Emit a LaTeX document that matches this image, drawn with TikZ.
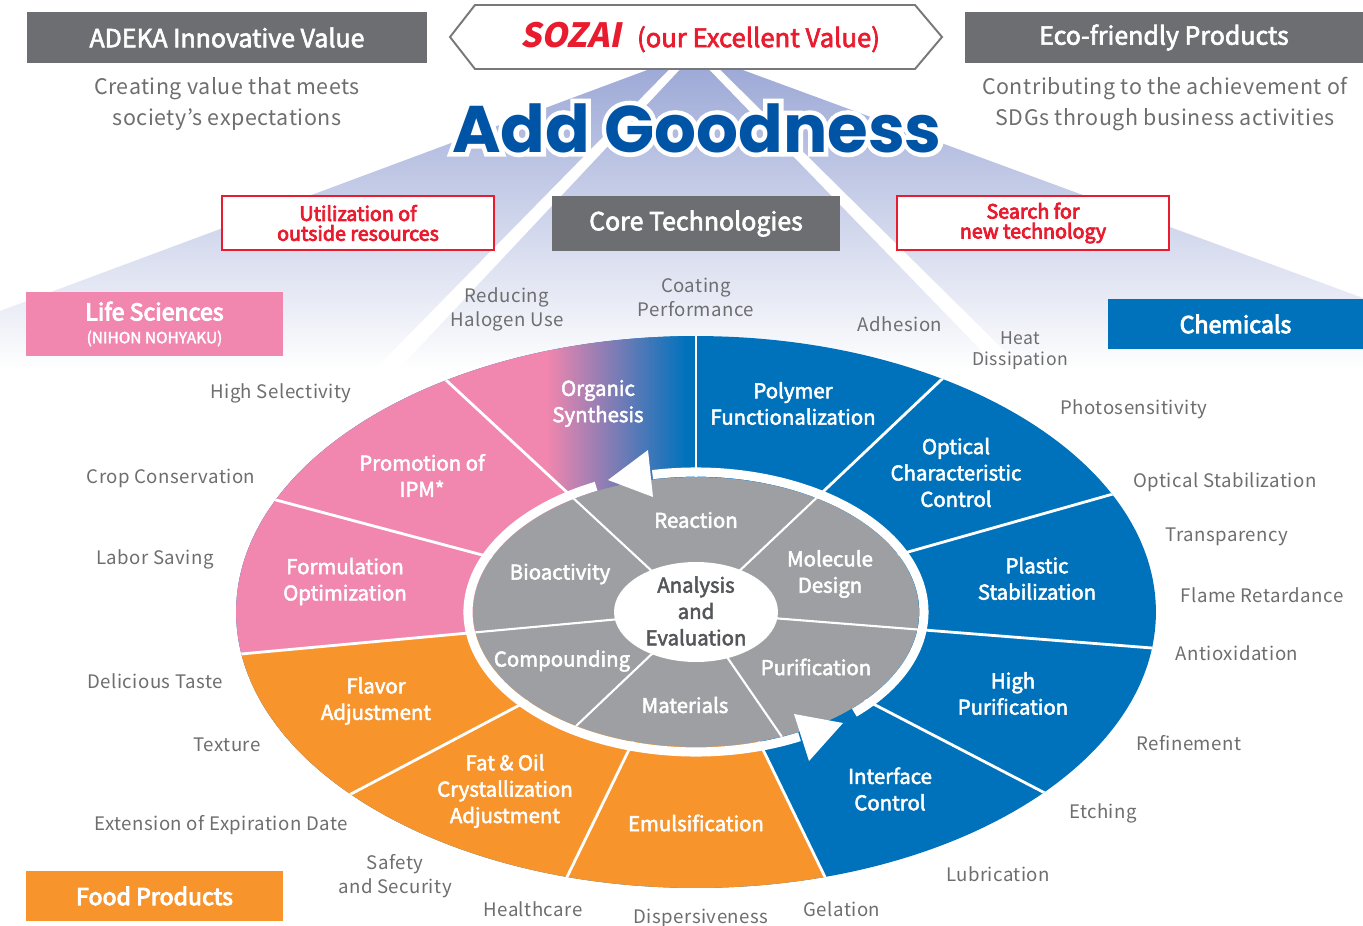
\documentclass[tikz,border=0pt]{standalone}
\usepackage{fontspec}
\setmainfont{Noto Sans CJK JP}
\newfontfamily\spcfam[LetterSpace=2.5]{Noto Sans CJK JP}
\newfontfamily\medfam[FakeBold=2.5]{Noto Sans CJK JP}
\newfontfamily\semfam[FakeBold=4]{Noto Sans CJK JP}
\newfontfamily\sozaifam[FakeSlant=0.2]{Noto Sans CJK JP}
\newfontfamily\popfam{Poppins}
\newfontfamily\pophalo[FakeBold=14]{Poppins}
\usetikzlibrary{calc}
\definecolor{pinkc}{RGB}{241,134,174}
\definecolor{bluec}{RGB}{0,114,188}
\definecolor{orangec}{RGB}{247,148,44}
\definecolor{grayc}{RGB}{157,159,162}
\definecolor{darkbox}{RGB}{109,110,113}
\definecolor{txtgray}{RGB}{110,110,112}
\definecolor{darktxt}{RGB}{85,86,89}
\definecolor{redc}{RGB}{232,28,46}
\definecolor{lav}{RGB}{158,170,215}
\definecolor{goodblue}{RGB}{0,84,166}
\definecolor{hexgray}{RGB}{120,120,122}
\newcommand\myLbl{\spcfam\fontsize{10.6}{13.6}\selectfont}
\newcommand\myLblS{\spcfam\fontsize{10}{12}\selectfont}
\newcommand\myTop{\spcfam\fontsize{12.2}{18}\selectfont}
\newcommand\mySeg{\medfam\fontsize{11.6}{15}\selectfont}
\newcommand\myHdr{\medfam\fontsize{14.2}{16}\selectfont}
\newcommand\myCat{\semfam\fontsize{13.2}{14}\selectfont}
\newcommand\myRed{\semfam\fontsize{11.2}{11.3}\selectfont}
\newcommand\myAdd{\popfam\bfseries\fontsize{37.5}{40}\selectfont}
\newcommand\myAddHalo{\pophalo\bfseries\fontsize{37.5}{40}\selectfont}
\begin{document}
\begin{tikzpicture}[x=0.02cm, y=-0.02cm,
 lbl/.style={font=\myLbl, text=txtgray, align=center, inner sep=0pt},
 toplbl/.style={font=\myTop, text=txtgray, align=center, inner sep=0pt},
 seg/.style={font=\mySeg, text=white, align=center, inner sep=0pt},
 hdrbox/.style={fill=darkbox, text=white, font=\myHdr, inner sep=0pt},
 redbox/.style={draw=redc, fill=white, line width=0.8pt, text=redc, font=\myRed, align=center, inner sep=0pt},
 catbox/.style={text=white, font=\myCat, align=center, inner sep=0pt},
 divider/.style={white, line width=1.6pt},
 gdivider/.style={white, line width=1.2pt},
 ring/.style={white, line width=5.2pt},
 beam/.style={top color=lav, bottom color=white},
 addtext/.style={inner sep=0pt}
]
\useasboundingbox (0,0) rectangle (1363,926);
\fill[white] (0,0) rectangle (1363,926);

% fan background: three beams separated by white gaps
\shade[beam] (650,69) -- (669.5,69) -- (374,370) -- (0,370) -- (0,311) -- cycle;
\shade[beam] (680.5,69) -- (708.5,69) -- (1000,370) -- (398,370) -- cycle;
\shade[beam] (719.5,69) -- (740,69) -- (1363,298) -- (1363,370) -- (1024,370) -- cycle;

% Add Goodness with white halo
\node[addtext, font=\myAddHalo, text=white] (addhalo) at (697,128) {Add Goodness};
\node[addtext, font=\myAdd, text=goodblue] (addgood) at (697,128) {Add Goodness};

% header boxes
\node[hdrbox, minimum width=8cm, minimum height=1.02cm] (adeka) at (227,37.5) {ADEKA Innovative Value};
\node[hdrbox, minimum width=7.96cm, minimum height=1.02cm] (eco) at (1164,37.5) {Eco-friendly Products};
\node[toplbl] (adekatxt) at (227,104) {Creating value that meets\\society’s expectations};
\node[toplbl] (ecotxt) at (1165,104) {Contributing to the achievement of\\SDGs through business activities};

% SOZAI hexagon
\draw[draw=hexgray, fill=white, line width=1.1pt] (450,37) -- (475,5) -- (915,5) -- (942,37) -- (915,69) -- (475,69) -- cycle;
\node[inner sep=0pt, text=redc] (sozai) at (700,37) {{\sozaifam\bfseries\fontsize{19}{19}\selectfont SOZAI}\hspace{9pt}{\medfam\fontsize{14.6}{14}\selectfont (our Excellent Value)}};

% middle boxes
\node[hdrbox, minimum width=5.76cm, minimum height=1.1cm] (core) at (696,223.5) {Core Technologies};
\node[redbox, minimum width=5.44cm, minimum height=1.08cm] (util) at (358,223) {Utilization of\\outside resources};
\node[redbox, minimum width=5.44cm, minimum height=1.08cm] (search) at (1033,223) {Search for\\new technology};

% category boxes
\node[catbox, fill=pinkc, minimum width=5.14cm, minimum height=1.28cm] (life) at (154.5,324) {Life Sciences\\[-1pt]{\medfam\fontsize{8.8}{10}\selectfont (NIHON NOHYAKU)}};
\node[catbox, fill=bluec, minimum width=5.1cm, minimum height=1.0cm] (chem) at (1235.5,324) {Chemicals};
\node[catbox, fill=orangec, minimum width=5.14cm, minimum height=1.0cm] (food) at (154.5,896) {Food Products};

% ===== wheel =====
\coordinate (C) at (696,612);
\coordinate (P0) at (696,336);
\coordinate (P2) at (941,380);
\coordinate (P3) at (1113,494);
\coordinate (P4) at (1152,648);
\coordinate (P5) at (1043,792);
\coordinate (P6) at (825,877);
\coordinate (P7) at (567,877);
\coordinate (P8) at (351,794);
\coordinate (P9) at (241,654);
\coordinate (P10) at (276,500);
\coordinate (P11) at (447,381);
\coordinate (Q1) at (782,737);
\coordinate (Q2) at (575,727);

\begin{scope}
  \clip (C) ellipse [x radius=9.2cm, y radius=5.52cm];
  \fill[bluec] (C) ellipse [x radius=9.3cm, y radius=5.6cm];
  \fill[orangec] (C) -- ($(C)!3!(P6)$) -- ($(C)!3!(P7)$) -- ($(C)!3!(P8)$) -- ($(C)!3!(P9)$) -- cycle;
  \fill[pinkc] (C) -- ($(C)!3!(P9)$) -- ($(C)!3!(P10)$) -- ($(C)!3!(P11)$) -- cycle;
  \begin{scope}
    \clip (C) -- ($(C)!3!(P11)$) -- ($(C)!3!(P0)$) -- cycle;
    \fill[pinkc] (0,0) rectangle (548,700);
    \shade[left color=pinkc, right color=bluec] (547,0) rectangle (686,700);
    \fill[bluec] (685,0) rectangle (760,700);
  \end{scope}
  \foreach \p in {P0,P2,P3,P4,P5,P6,P7,P8,P9,P10,P11} {
    \draw[divider] (C) -- ($(C)!1.1!(\p)$);
  }
\end{scope}

% gray core
\fill[grayc] (C) ellipse [x radius=4.46cm, y radius=2.7cm];
\begin{scope}
  \clip (C) ellipse [x radius=4.46cm, y radius=2.7cm];
  \foreach \p in {P11,P2,P4,Q1,Q2,P9} {
    \draw[gdivider] (C) -- ($(C)!2!(\p)$);
  }
\end{scope}

% circulating white arrows
\draw[ring] (C) ++(-46:4.56cm and 2.8cm) arc[start angle=-46, end angle=101, x radius=4.56cm, y radius=2.8cm];
\draw[ring] (C) ++(116:4.56cm and 2.8cm) arc[start angle=116, end angle=297, x radius=4.56cm, y radius=2.8cm];
\fill[white] (608,480) -- (648,450) -- (653,497) -- cycle;
\fill[white] (843,723) -- (794,714) -- (809,761) -- cycle;

% center
\fill[white] (C) ellipse [x radius=1.64cm, y radius=1.0cm];
\node[font=\mySeg, text=darktxt, align=center, inner sep=0pt] (analysis) at (696,611) {Analysis\\and\\Evaluation};

% segment labels
\node[seg] (s1) at (598,403.5) {Organic\\Synthesis};
\node[seg] (s2) at (793,403.5) {Polymer\\Functionalization};
\node[seg] (s3) at (956,472.5) {Optical\\Characteristic\\Control};
\node[seg] (s4) at (1037,578.5) {Plastic\\Stabilization};
\node[seg] (s5) at (1013,693.5) {High\\Purification};
\node[seg] (s6) at (890,789) {Interface\\Control};
\node[seg] (s7) at (696,823) {Emulsification};
\node[seg] (s8) at (505,791) {Fat \& Oil\\Crystallization\\Adjustment};
\node[seg] (s9) at (376,701) {Flavor\\Adjustment};
\node[seg] (s10) at (345,581.5) {Formulation\\Optimization};
\node[seg] (s11) at (422,475.5) {Promotion of\\IPM*};

\node[seg] (g1) at (696,520) {Reaction};
\node[seg] (g2) at (830,574) {Molecule\\Design};
\node[seg] (g3) at (816,667) {Purification};
\node[seg] (g4) at (685,705) {Materials};
\node[seg] (g5) at (562,661) {Compounding};
\node[seg] (g6) at (560,574) {Bioactivity};

% outer gray labels
\node[lbl] (l1) at (507,309) {Reducing\\Halogen Use};
\node[lbl] (l2) at (696,297) {Coating\\Performance};
\node[lbl] (l3) at (900,324) {Adhesion};
\node[lbl, font=\myLblS] (l4) at (1020,350.5) {Heat\\Dissipation};
\node[lbl] (l5) at (1134,409) {Photosensitivity};
\node[lbl] (l6) at (1225,482) {Optical Stabilization};
\node[lbl] (l7) at (1227,537) {Transparency};
\node[lbl] (l8) at (1262,595) {Flame Retardance};
\node[lbl] (l9) at (1237,653) {Antioxidation};
\node[lbl] (l10) at (1189,743) {Refinement};
\node[lbl] (l11) at (1103,813) {Etching};
\node[lbl] (l12) at (998,874) {Lubrication};
\node[lbl] (l13) at (842,909) {Gelation};
\node[lbl] (l14) at (701,918) {Dispersiveness};
\node[lbl] (l15) at (533,909) {Healthcare};
\node[lbl] (l16) at (395,876) {Safety\\and Security};
\node[lbl] (l17) at (221,825) {Extension of Expiration Date};
\node[lbl] (l18) at (227,745) {Texture};
\node[lbl] (l19) at (155,681) {Delicious Taste};
\node[lbl] (l20) at (155,559) {Labor Saving};
\node[lbl] (l21) at (171,478) {Crop Conservation};
\node[lbl] (l22) at (281,393) {High Selectivity};
\end{tikzpicture}
\end{document}
